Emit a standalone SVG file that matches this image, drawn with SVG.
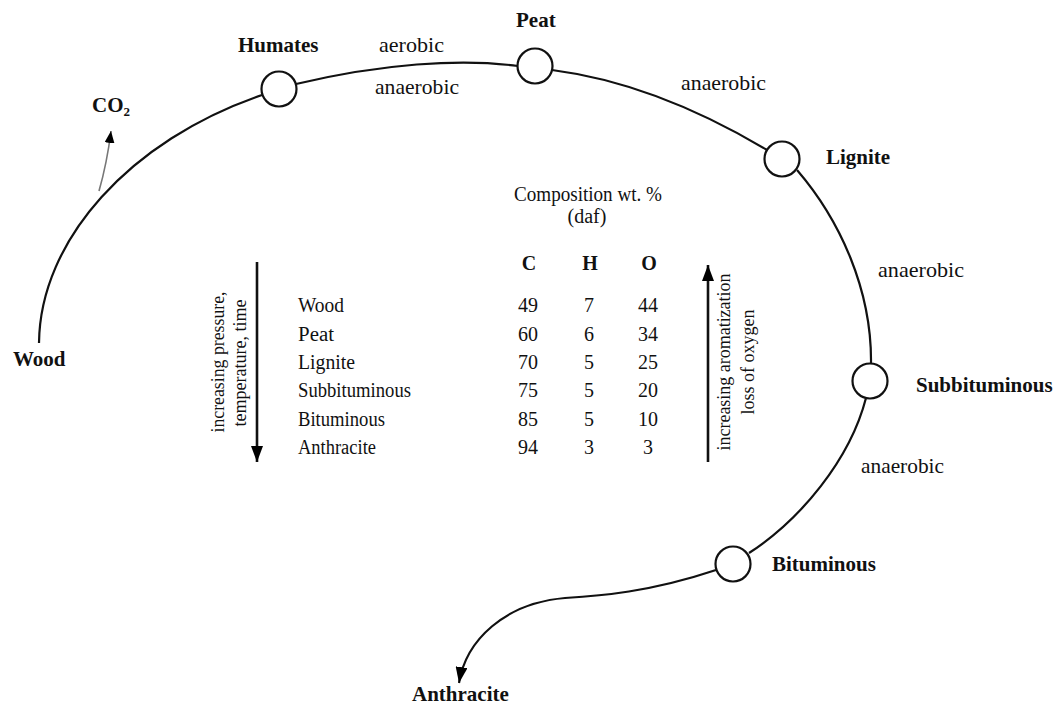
<svg xmlns="http://www.w3.org/2000/svg" width="1056" height="707" viewBox="0 0 1056 707">
<style>
  text { font-family: "Liberation Serif", "Times New Roman", serif; fill: #111; }
  .t { font-size: 21px; }
  .b { font-size: 21px; font-weight: bold; }
  .tb { font-size: 20px; }
  .num { font-size: 20px; text-anchor: middle; }
  .hd { font-size: 20px; font-weight: bold; text-anchor: middle; }
  .rot { font-size: 19.5px; text-anchor: middle; }
  .curve { fill: none; stroke: #111; stroke-width: 2.2; }
  .node { fill: #fff; stroke: #111; stroke-width: 2.2; }
</style>
<defs>
  <marker id="ah" viewBox="0 0 16 12" refX="16" refY="6" markerWidth="16" markerHeight="12" markerUnits="userSpaceOnUse" orient="auto">
    <path d="M0,0 L16,6 L0,12 Z" fill="#000"/>
  </marker>
  <marker id="ahs" viewBox="0 0 12 10" refX="12" refY="5" markerWidth="12" markerHeight="10" markerUnits="userSpaceOnUse" orient="auto">
    <path d="M0,0 L12,5 L0,10 Z" fill="#000"/>
  </marker>
</defs>
<rect width="1056" height="707" fill="#fff"/>

<g id="connectors">
  <path class="curve" d="M39,343 C40,240 130,140 262,95"/>
  <path d="M99,191 C105,170 108,155 111,131" fill="none" stroke="#777" stroke-width="1.6" marker-end="url(#ahs)"/>
  <path class="curve" d="M296,84 C380,64 460,58 518,66"/>
  <path class="curve" d="M552,70 C630,80 700,110 767,150"/>
  <path class="curve" d="M797,170 C840,220 872,290 871,364"/>
  <path class="curve" d="M866,398 C850,460 800,520 749,553"/>
  <path class="curve" d="M716,570 C650,592 600,596 565,598 C505,603 466,640 459,683" marker-end="url(#ah)"/>
  <line x1="257" y1="262" x2="257" y2="462" stroke="#111" stroke-width="2.6" marker-end="url(#ah)"/>
  <line x1="708" y1="462" x2="708" y2="265" stroke="#111" stroke-width="2.6" marker-end="url(#ah)"/>
</g>

<g id="wood">
  <text class="b" x="13" y="366">Wood</text>
</g>
<g id="co2">
  <text class="b" x="92" y="112">CO<tspan font-size="13" dy="4">2</tspan></text>
</g>
<g id="humates">
  <circle class="node" cx="279" cy="89" r="17.5"/>
  <text class="b" x="238" y="52">Humates</text>
</g>
<g id="peat">
  <circle class="node" cx="535" cy="66" r="17.5"/>
  <text class="b" x="516" y="27">Peat</text>
</g>
<g id="lignite">
  <circle class="node" cx="782" cy="159" r="17.5"/>
  <text class="b" x="826" y="164">Lignite</text>
</g>
<g id="subbituminous">
  <circle class="node" cx="870" cy="381" r="17.5"/>
  <text class="b" x="916" y="392">Subbituminous</text>
</g>
<g id="bituminous">
  <circle class="node" cx="733" cy="564" r="17.5"/>
  <text class="b" x="772" y="571">Bituminous</text>
</g>
<g id="anthracite">
  <text class="b" x="412" y="701">Anthracite</text>
</g>

<g id="edge-labels">
  <text class="t" x="379" y="52" textLength="65" lengthAdjust="spacingAndGlyphs">aerobic</text>
  <text class="t" x="375" y="94" textLength="84" lengthAdjust="spacingAndGlyphs">anaerobic</text>
  <text class="t" x="681" y="90" textLength="85" lengthAdjust="spacingAndGlyphs">anaerobic</text>
  <text class="t" x="878" y="277" textLength="86" lengthAdjust="spacingAndGlyphs">anaerobic</text>
  <text class="t" x="861" y="473" textLength="83" lengthAdjust="spacingAndGlyphs">anaerobic</text>
</g>

<g id="table">
  <text class="tb" x="514" y="201" textLength="148" lengthAdjust="spacingAndGlyphs">Composition wt. %</text>
  <text class="tb" x="587" y="223" text-anchor="middle">(daf)</text>
  <text class="hd" x="529" y="270">C</text>
  <text class="hd" x="590" y="270">H</text>
  <text class="hd" x="649" y="270">O</text>

  <text class="tb" x="298" y="312" textLength="46" lengthAdjust="spacingAndGlyphs">Wood</text>
  <text class="tb" x="298" y="341" textLength="36" lengthAdjust="spacingAndGlyphs">Peat</text>
  <text class="tb" x="298" y="369" textLength="57" lengthAdjust="spacingAndGlyphs">Lignite</text>
  <text class="tb" x="298" y="397" textLength="113" lengthAdjust="spacingAndGlyphs">Subbituminous</text>
  <text class="tb" x="298" y="426" textLength="87" lengthAdjust="spacingAndGlyphs">Bituminous</text>
  <text class="tb" x="298" y="454" textLength="78" lengthAdjust="spacingAndGlyphs">Anthracite</text>

  <text class="num" x="528" y="312">49</text><text class="num" x="589" y="312">7</text><text class="num" x="648" y="312">44</text>
  <text class="num" x="528" y="341">60</text><text class="num" x="589" y="341">6</text><text class="num" x="648" y="341">34</text>
  <text class="num" x="528" y="369">70</text><text class="num" x="589" y="369">5</text><text class="num" x="648" y="369">25</text>
  <text class="num" x="528" y="397">75</text><text class="num" x="589" y="397">5</text><text class="num" x="648" y="397">20</text>
  <text class="num" x="528" y="426">85</text><text class="num" x="589" y="426">5</text><text class="num" x="648" y="426">10</text>
  <text class="num" x="528" y="454">94</text><text class="num" x="589" y="454">3</text><text class="num" x="648" y="454">3</text>
</g>

<g id="axis-labels">
  <text class="rot" transform="translate(224,362) rotate(-90)" textLength="141" lengthAdjust="spacingAndGlyphs">increasing pressure,</text>
  <text class="rot" transform="translate(246,363) rotate(-90)" textLength="127" lengthAdjust="spacingAndGlyphs">temperature, time</text>
  <text class="rot" transform="translate(730,362) rotate(-90)" textLength="177" lengthAdjust="spacingAndGlyphs">increasing aromatization</text>
  <text class="rot" transform="translate(754,362) rotate(-90)" textLength="105" lengthAdjust="spacingAndGlyphs">loss of oxygen</text>
</g>
</svg>
